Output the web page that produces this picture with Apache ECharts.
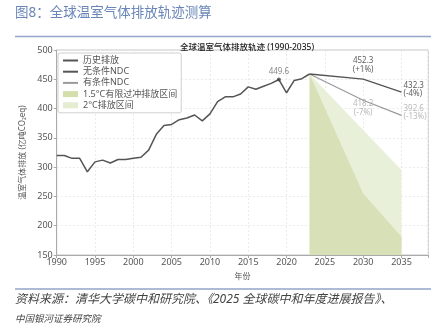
<!DOCTYPE html>
<html>
<head>
<meta charset="utf-8">
<script src="https://cdn.jsdelivr.net/npm/echarts@6/dist/echarts.min.js"></script>
<style>
  html, body { margin: 0; padding: 0; background: #fff; }
  #chart { width: 443px; height: 327px; }
</style>
</head>
<body>
<div id="chart"></div>
<script>
// Historical emissions, 亿吨CO2eq
const histYears = [1990, 1991, 1992, 1993, 1994, 1995, 1996, 1997, 1998, 1999,
  2000, 2001, 2002, 2003, 2004, 2005, 2006, 2007, 2008, 2009,
  2010, 2011, 2012, 2013, 2014, 2015, 2016, 2017, 2018, 2019,
  2020, 2021, 2022, 2023];
const histValues = [320, 320, 315, 315, 292, 309, 312, 307, 313, 313,
  315, 317, 329, 356, 371, 373, 381, 384, 389, 379,
  391, 412, 420, 420, 425, 437, 433, 438, 443, 449.6,
  427, 448, 451, 459];

// NDC scenarios (central value and half-width of the band)
const projYears = [2023, 2030, 2035];
const uncondNdc = [459, 452.3, 432.3];
const uncondSpread = [0, 2, 4.3];
const condNdc = [459, 418.2, 392.6];
const condSpread = [0, 4, 4.3];

// Pathway ranges
const path15Years = [2023, 2030, 2035];
const path15Values = [459, 255, 181];
const path2Years = [2023, 2035];
const path2Values = [459, 295];

const baseYear = 2019;
const baseValue = 449.6;

const xTicks = [1990, 1995, 2000, 2005, 2010, 2015, 2020, 2025, 2030, 2035];

const FONT = "'Noto Sans', 'Noto Sans CJK SC', sans-serif";

const pairs = (xs, ys) => xs.map((x, i) => [x, ys[i]]);
const lower = (c, s) => c.map((v, i) => v - s[i]);
const pct = v => {
  const p = Math.round((v / baseValue - 1) * 100);
  return '(' + (p > 0 ? '+' : '') + p + '%)';
};
const fmt = v => v.toFixed(1);

const chart = echarts.init(document.getElementById('chart'), null, { renderer: 'canvas' });

const labelPoint = (year, value, color, position, distance) => ({
  value: [year, value],
  label: {
    show: true, position, distance, color,
    fontSize: 8, fontFamily: FONT, lineHeight: 8.5, align: position === 'right' ? 'left' : 'center',
    formatter: () => fmt(value) + '\n' + pct(value)
  }
});

const option = {
  animation: false,
  backgroundColor: '#fff',
  textStyle: { fontFamily: FONT },
  title: {
    text: '全球温室气体排放轨迹 (1990-2035)',
    left: 242, top: 38, textAlign: 'center',
    textStyle: { fontSize: 8.5, fontWeight: 500, color: '#222', fontFamily: FONT }
  },
  graphic: [
    { type: 'text', left: 15, top: 6,
      style: { text: '图8：全球温室气体排放轨迹测算', fontSize: 13.5, fill: '#6a86b8', fontFamily: FONT } },
    { type: 'line', shape: { x1: 15, y1: 36.5, x2: 431, y2: 36.5 },
      style: { stroke: '#93a5c9', lineWidth: 1.5 } },
    { type: 'line', shape: { x1: 15, y1: 289, x2: 431, y2: 289 },
      style: { stroke: '#93a5c9', lineWidth: 1.5 } },
    { type: 'text', left: 15, top: 294,
      style: { text: '资料来源：清华大学碳中和研究院、《2025 全球碳中和年度进展报告》、',
        fontSize: 12, fill: '#444', fontStyle: 'italic', fontFamily: FONT } },
    { type: 'text', left: 15, top: 315,
      style: { text: '中国银河证券研究院', fontSize: 9.5, fill: '#444', fontStyle: 'italic', fontFamily: FONT } }
  ],
  legend: {
    orient: 'vertical', left: 58, top: 53,
    itemWidth: 15, itemHeight: 6, itemGap: 2.2,
    padding: [3, 4, 3, 4],
    borderColor: '#d0d0d0', borderWidth: 1, borderRadius: 2,
    backgroundColor: '#fff',
    itemStyle: { opacity: 0 },
    textStyle: { fontSize: 9, color: '#555', fontFamily: FONT, lineHeight: 8.5 },
    data: [
      { name: '历史排放' },
      { name: '无条件NDC' },
      { name: '有条件NDC' },
      { name: '1.5°C有限过冲排放区间', icon: 'rect', itemStyle: { opacity: 1 } },
      { name: '2°C排放区间', icon: 'rect', itemStyle: { opacity: 1 } }
    ]
  },
  grid: {
    left: 56.7, right: 14.7, top: 50, bottom: 72,
    show: true, borderColor: '#c4c4c4', borderWidth: 1
  },
  xAxis: {
    type: 'value', min: 1990, max: 2038.5, interval: 5,
    name: '年份', nameLocation: 'middle', nameGap: 18,
    nameTextStyle: { fontSize: 8, color: '#555', fontFamily: FONT },
    axisLine: { show: true, lineStyle: { color: '#aaa' } },
    axisTick: { show: true, length: 3, lineStyle: { color: '#aaa' } },
    axisLabel: {
      fontSize: 9, color: '#555', margin: 3, fontFamily: FONT,
      formatter: v => (xTicks.indexOf(v) >= 0 ? String(v) : '')
    },
    splitLine: { show: true, lineStyle: { color: '#e6e6e6', type: [2, 2], width: 0.8 } }
  },
  yAxis: {
    type: 'value', min: 150, max: 500, interval: 50,
    name: '温室气体排放 (亿吨CO₂eq)', nameLocation: 'middle', nameGap: 27, nameRotate: 90,
    nameTextStyle: { fontSize: 8, color: '#555', fontFamily: FONT },
    axisLine: { show: true, lineStyle: { color: '#aaa' } },
    axisTick: { show: true, length: 3, lineStyle: { color: '#aaa' } },
    axisLabel: { fontSize: 9, color: '#555', margin: 4, fontFamily: FONT },
    splitLine: { show: true, lineStyle: { color: '#e6e6e6', type: [2, 2], width: 0.8 } }
  },
  series: [
    {
      name: '2°C排放区间', type: 'line', z: 1,
      data: pairs(path2Years, path2Values),
      symbol: 'none',
      itemStyle: { color: '#e4edd0' },
      lineStyle: { width: 0, color: '#e4edd0' },
      areaStyle: { color: '#e9f0da', origin: 'start', opacity: 1 }
    },
    {
      name: '1.5°C有限过冲排放区间', type: 'line', z: 2,
      data: pairs(path15Years, path15Values),
      symbol: 'none',
      itemStyle: { color: '#d4deab' },
      lineStyle: { width: 0, color: '#d4deab' },
      areaStyle: { color: '#d8e0b7', origin: 'start', opacity: 1 }
    },
    // Conditional NDC band: lower edge + stacked width
    {
      name: '有条件NDC', type: 'line', z: 3, stack: 'cond',
      data: pairs(projYears, lower(condNdc, condSpread)),
      symbol: 'none',
      itemStyle: { color: '#9a9a9a' },
      lineStyle: { color: '#9a9a9a', width: 1.3 }
    },
    {
      name: '有条件NDC上沿', type: 'line', z: 3, stack: 'cond',
      data: pairs(projYears, condSpread.map(s => 2 * s)),
      symbol: 'none',
      lineStyle: { color: '#9a9a9a', width: 1.3 },
      areaStyle: { color: '#e2e2e2', opacity: 1 }
    },
    // Unconditional NDC band
    {
      name: '无条件NDC', type: 'line', z: 4, stack: 'uncond',
      data: pairs(projYears, lower(uncondNdc, uncondSpread)),
      symbol: 'none',
      itemStyle: { color: '#555' },
      lineStyle: { color: '#555', width: 1.3 }
    },
    {
      name: '无条件NDC上沿', type: 'line', z: 4, stack: 'uncond',
      data: pairs(projYears, uncondSpread.map(s => 2 * s)),
      symbol: 'none',
      lineStyle: { color: '#555', width: 1.3 },
      areaStyle: { color: '#b8b8b8', opacity: 1 }
    },
    {
      name: '历史排放', type: 'line', z: 5,
      data: pairs(histYears, histValues),
      symbol: 'none',
      itemStyle: { color: '#555' },
      lineStyle: { color: '#555', width: 1.5 }
    },
    {
      name: '峰值', type: 'scatter', z: 6,
      data: [[baseYear, baseValue]],
      symbolSize: 4,
      itemStyle: { color: '#444' },
      label: {
        show: true, position: 'top', distance: 2, color: '#666', fontSize: 8, fontFamily: FONT,
        formatter: p => fmt(p.value[1])
      }
    },
    {
      name: '情景标注', type: 'scatter', z: 7,
      symbolSize: 0,
      data: [
        labelPoint(projYears[1], uncondNdc[1], '#333', 'top', 4),
        labelPoint(projYears[2], uncondNdc[2], '#333', 'right', 2),
        labelPoint(projYears[1], condNdc[1], '#a8a8a8', 'bottom', 2),
        labelPoint(projYears[2], condNdc[2], '#a8a8a8', 'right', 2)
      ]
    }
  ]
};

chart.setOption(option);
</script>
</body>
</html>
